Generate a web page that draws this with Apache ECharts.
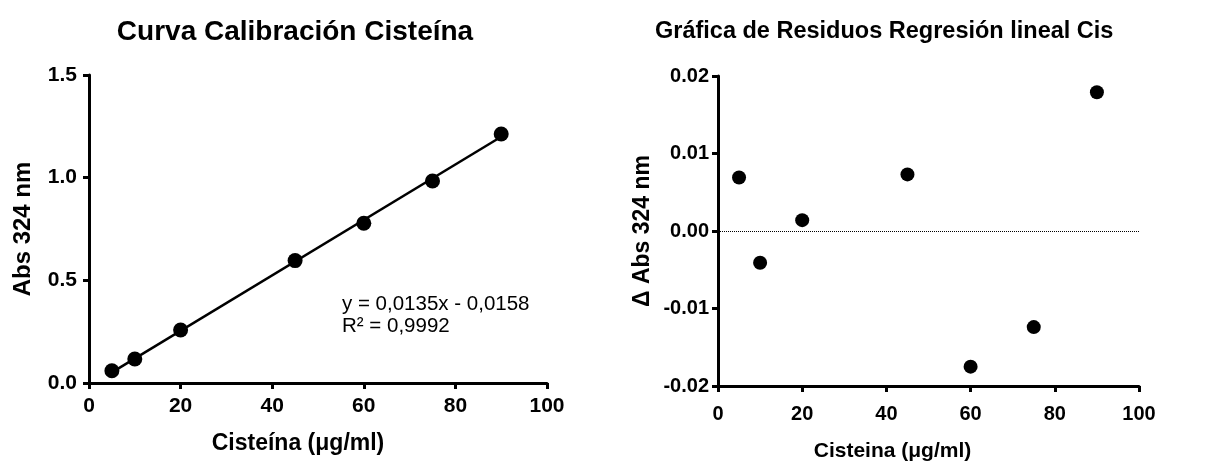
<!DOCTYPE html>
<html>
<head>
<meta charset="utf-8">
<script src="https://cdn.jsdelivr.net/npm/echarts@6/dist/echarts.min.js"></script>
<style>
  html, body { margin: 0; padding: 0; background: #fff; }
  #chart { width: 1207px; height: 461px; }
</style>
</head>
<body>
<div id="chart"></div>
<script>
// calibration data (Abs 324 nm vs cysteine concentration)
const concentration = [5, 10, 20, 45, 60, 75, 90];
const absorbance = [0.060, 0.117, 0.258, 0.596, 0.778, 0.984, 1.213];
// fitted line end points
const fitX = [5, 90];
const fitY = [0.052, 1.199];
// residuals of the linear fit
const residuals = [0.0069, -0.0041, 0.0014, 0.0073, -0.0175, -0.0124, 0.0179];

const absTicks = [0, 0.5, 1.0, 1.5];
const residTicks = [-0.02, -0.01, 0, 0.01, 0.02];
const xTicks = [0, 20, 40, 60, 80, 100];

const FONT = 'Liberation Sans, Arial, sans-serif';

function pairs(xs, ys) {
  return xs.map((x, i) => [x, ys[i]]);
}

const axisBase = {
  type: 'value',
  axisLine: { show: true, onZero: false, lineStyle: { color: '#000', width: 3 } },
  axisTick: { show: true, inside: false, length: 6, lineStyle: { color: '#000', width: 3 } },
  splitLine: { show: false },
  axisLabel: { color: '#000', fontFamily: FONT, fontWeight: 'bold', fontSize: 21 },
  nameLocation: 'middle',
  nameTextStyle: { color: '#000', fontFamily: FONT, fontWeight: 'bold', fontSize: 23 },
};

const option = {
  animation: false,
  backgroundColor: '#fff',
  title: [
    {
      text: 'Curva Calibración Cisteína',
      left: 290,
      top: 13,
      textAlign: 'center',
      textStyle: { color: '#000', fontFamily: FONT, fontWeight: 'bold', fontSize: 28 },
    },
    {
      text: 'Gráfica de Residuos Regresión lineal Cis',
      left: 650,
      top: 15,
      textStyle: { color: '#000', fontFamily: FONT, fontWeight: 'bold', fontSize: 23.5 },
    },
    {
      text: 'y = 0,0135x - 0,0158\nR² = 0,9992',
      left: 337,
      top: 288,
      textStyle: { color: '#000', fontFamily: FONT, fontWeight: 'normal', fontSize: 20.5, lineHeight: 22 },
    },
  ],
  grid: [
    { left: 89, top: 75, width: 458, height: 308, containLabel: false, outerBoundsMode: 'none' },
    { left: 718, top: 76, width: 421, height: 310, containLabel: false, outerBoundsMode: 'none' },
  ],
  xAxis: [
    Object.assign({}, axisBase, {
      gridIndex: 0,
      min: xTicks[0],
      max: xTicks[xTicks.length - 1],
      interval: 20,
      name: 'Cisteína (μg/ml)',
      nameGap: 49,
      nameTextStyle: Object.assign({}, axisBase.nameTextStyle, { padding: [0, 40, 0, 0] }),
      axisLabel: Object.assign({}, axisBase.axisLabel, { margin: 13 }),
    }),
    Object.assign({}, axisBase, {
      gridIndex: 1,
      min: xTicks[0],
      max: xTicks[xTicks.length - 1],
      interval: 20,
      name: 'Cisteina (μg/ml)',
      nameGap: 55,
      nameTextStyle: Object.assign({}, axisBase.nameTextStyle, { fontSize: 21, padding: [0, 72, 0, 0] }),
      axisLabel: Object.assign({}, axisBase.axisLabel, { fontSize: 20, margin: 18 }),
    }),
  ],
  yAxis: [
    Object.assign({}, axisBase, {
      gridIndex: 0,
      min: absTicks[0],
      max: absTicks[absTicks.length - 1],
      interval: 0.5,
      name: 'Abs 324 nm',
      nameGap: 54,
      nameTextStyle: Object.assign({}, axisBase.nameTextStyle, { fontSize: 24 }),
      axisLabel: Object.assign({}, axisBase.axisLabel, {
        margin: 12,
        formatter: v => v.toFixed(1),
      }),
    }),
    Object.assign({}, axisBase, {
      gridIndex: 1,
      min: residTicks[0],
      max: residTicks[residTicks.length - 1],
      interval: 0.01,
      name: 'Δ Abs 324 nm',
      nameGap: 64,
      axisLabel: Object.assign({}, axisBase.axisLabel, {
        fontSize: 20,
        margin: 9,
        formatter: v => (Math.abs(v) < 1e-9 ? 0 : v).toFixed(2),
      }),
    }),
  ],
  series: [
    {
      type: 'line',
      xAxisIndex: 0,
      yAxisIndex: 0,
      data: pairs(fitX, fitY),
      showSymbol: false,
      lineStyle: { color: '#000', width: 2.5 },
      z: 2,
    },
    {
      type: 'scatter',
      xAxisIndex: 0,
      yAxisIndex: 0,
      data: pairs(concentration, absorbance),
      symbol: 'circle',
      symbolSize: 15,
      itemStyle: { color: '#000', opacity: 1 },
      z: 3,
    },
    {
      type: 'scatter',
      xAxisIndex: 1,
      yAxisIndex: 1,
      data: pairs(concentration, residuals),
      symbol: 'circle',
      symbolSize: 14,
      itemStyle: { color: '#000', opacity: 1 },
      markLine: {
        silent: true,
        symbol: 'none',
        label: { show: false },
        lineStyle: { color: '#000', type: 'dotted', width: 1 },
        data: [{ yAxis: 0 }],
      },
    },
  ],
};

const myChart = echarts.init(document.getElementById('chart'));
myChart.setOption(option);
</script>
</body>
</html>
